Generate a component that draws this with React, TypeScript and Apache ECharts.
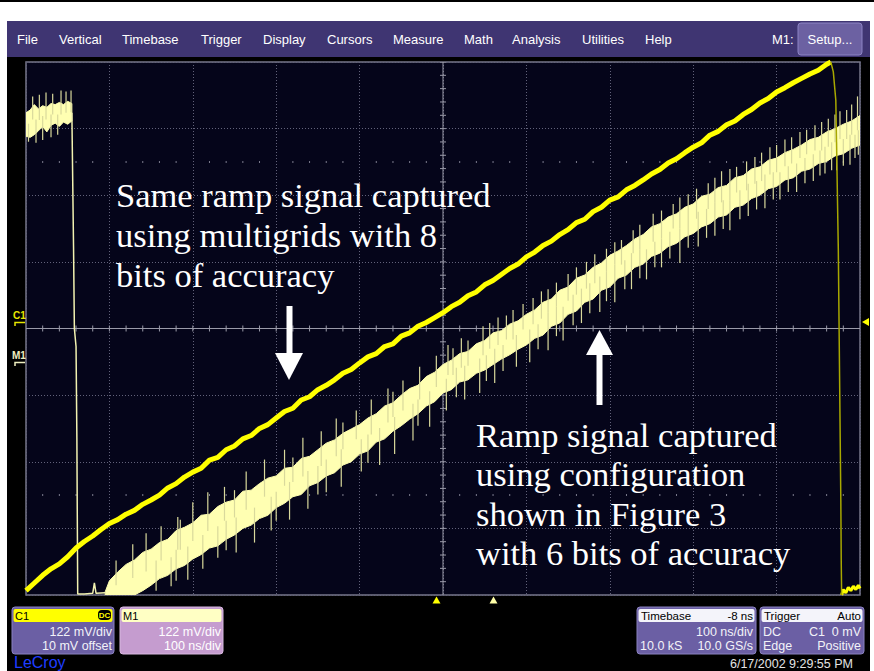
import React, { useEffect, useRef } from "react";
import * as echarts from "echarts";

// ---- C1 (8-bit ramp, bright yellow) : time (ns) / voltage (mV) ----
const C1_T = [-500,-490,-480,-470,-460,-450,-440,-430,-420,-410,-400,-390,-380,-370,-360,-350,-340,-330,-320,-310,-300,-290,-280,-270,-260,-250,-240,-230,-220,-210,-200,-190,-180,-170,-160,-150,-140,-130,-120,-110,-100,-90,-80,-70,-60,-50,-40,-30,-20,-10,0,10,20,30,40,50,60,70,80,90,100,110,120,130,140,150,160,170,180,190,200,210,220,230,240,250,260,270,280,290,300,310,320,330,340,350,360,370,380,390,400,410,420,430,440,450,460,465];
const C1_V = [-480,-466,-452,-440,-431,-418,-402,-390,-380,-368,-357,-350,-340,-333,-322,-314,-305,-292,-284,-272,-263,-256,-241,-236,-222,-215,-202,-196,-183,-176,-164,-152,-146,-131,-125,-112,-104,-94,-82,-75,-63,-52,-46,-33,-28,-14,-8,4,11,20,29,40,48,60,67,80,88,99,110,118,131,140,152,160,172,181,194,200,214,222,235,241,254,262,272,283,291,303,311,322,332,340,354,361,373,380,392,401,413,421,433,441,450,458,466,473,484,488];
const C1_FALL_T = [465,468,471,474,477,477.5,478];
const C1_FALL_V = [488,470,418,144,-314,-428,-488];
const C1_TAIL_T = [478,480,483,486,489,492,495,498,500];
const C1_TAIL_V = [-488,-478,-484,-474,-480,-472,-478,-470,-476];

// ---- M1 (6-bit ramp, pale yellow band) ----
const M1_T = [-405,-400,-390,-380,-370,-360,-350,-340,-330,-320,-310,-300,-290,-280,-270,-260,-250,-240,-230,-220,-210,-200,-190,-180,-170,-160,-150,-140,-130,-120,-110,-100,-90,-80,-70,-60,-50,-40,-30,-20,-10,0,10,20,30,40,50,60,70,80,90,100,110,120,130,140,150,160,170,180,190,200,210,220,230,240,250,260,270,280,290,300,310,320,330,340,350,360,370,380,390,400,410,420,430,440,450,460,470,480,490,500];
const M1_UP = [-482,-462,-446,-432,-424,-410,-404,-392,-386,-370,-364,-356,-342,-340,-326,-318,-314,-298,-296,-284,-274,-270,-256,-254,-238,-234,-222,-210,-204,-192,-184,-176,-164,-156,-142,-136,-122,-110,-104,-88,-80,-66,-58,-46,-42,-28,-22,-8,-4,8,14,26,34,48,54,70,76,92,98,112,120,134,142,152,164,172,186,192,204,210,222,228,242,246,258,262,276,280,292,296,308,312,322,328,336,346,350,360,366,374,380,390];
const M1_LO = [-492,-492,-494,-492,-490,-480,-470,-458,-452,-440,-434,-422,-414,-402,-398,-386,-378,-366,-360,-348,-342,-328,-320,-308,-304,-288,-282,-270,-264,-250,-244,-230,-224,-208,-202,-188,-178,-166,-156,-142,-134,-118,-112,-98,-94,-82,-76,-66,-56,-48,-38,-30,-18,-12,4,10,26,32,48,54,70,76,92,98,112,118,132,138,150,156,168,174,186,192,204,208,222,226,238,244,256,260,272,276,288,292,302,306,316,320,330,336];
// high level before the falling edge
const M1_HI_T = [-500,-495,-490,-485,-480,-475,-470,-465,-460,-455,-450,-445];
const M1_HI_UP = [395,400,410,402,408,405,412,410,414,410,416,412];
const M1_HI_LO = [352,350,355,362,370,360,372,376,370,378,374,380];
// falling edge and flat bottom
const M1_EDGE_T = [-445,-443,-442,-440,-439,-438,-430,-420,-418,-416,-405];
const M1_EDGE_V = [395,150,0,-33,-200,-486,-486,-485,-466,-485,-484];
// noise spikes (time, tip voltage)
const M1_SPIKE_T = [-497,-492,-488,-484,-480,-476,-470,-468,-462,-458,-452,-446,
  -392,-372,-356,-338,-318,-300,-282,-262,-236,-214,-190,-168,-146,-128,-104,-86,-66,-48,-28,-8,6,22,48,66,84,96,118,136,150,172,196,214,236,252,276,294,318,334,352,374,392,410,428,446,462,476,490,497,
  -344,-326,-306,-288,-270,-248,-226,-206,-184,-162,-140,-122,-98,-76,-58,-36,-16,4,26,44,62,88,104,126,144,166,188,206,226,244,262,284,306,326,344,366,386,404,424,444,458,472,488,498,
  -315,-250,-180,-120,-60,12,30,56,76,108,126,160,182,206,228,262,284,304,326,344,364,382,400,418,436,454,470,484,
  -320,-260,-200,-150,-90,-30,16,52,72,114,136,156,176,196,218,236,254,272,294,316,336,356,376,396,414,434,452,466,480,494];
const M1_SPIKE_TIP = [342,425,340,428,345,432,350,430,355,436,434,436,
  -425,-395,-375,-362,-345,-318,-300,-290,-262,-240,-222,-200,-188,-165,-150,-130,-110,-95,-70,-50,-30,-18,4,20,34,45,68,84,100,122,146,162,190,210,228,246,266,288,296,314,332,346,360,372,384,398,410,425,
  -480,-472,-460,-440,-420,-410,-392,-370,-350,-330,-300,-290,-262,-250,-230,-205,-180,-150,-130,-118,-100,-70,-62,-40,-22,10,30,48,72,90,112,120,150,170,180,206,220,236,250,270,284,290,300,318,
  -350,-296,-236,-172,-116,-36,-22,10,24,56,72,112,136,158,180,216,240,256,276,292,306,322,336,350,364,378,392,400,
  -462,-406,-352,-304,-246,-178,-126,-96,-78,-38,-14,6,28,50,72,92,112,128,148,166,182,200,218,236,250,266,280,290,298,312];

// ---- screen texts ----
const MENU_ITEMS = ["File","Vertical","Timebase","Trigger","Display","Cursors","Measure","Math","Analysis","Utilities","Help","M1:"];
const NOTE_LEFT = ["Same ramp signal captured","using multigrids with 8","bits of accuracy"];
const NOTE_RIGHT = ["Ramp signal captured","using configuration","shown in Figure 3","with 6 bits of accuracy"];
const DATE_TEXT = "6/17/2002 9:29:55 PM";

const X_MIN = -500, X_MAX = 500, X_INT = 100;
const Y_MIN = -488, Y_MAX = 488, Y_INT = 122;

const clampY = (v: number) => Math.max(Y_MIN, Math.min(Y_MAX, v));

function nearestMid(t: number) {
  if (t < -440) {
    let b = 0;
    for (let i = 0; i < M1_HI_T.length; i++) if (Math.abs(M1_HI_T[i] - t) < Math.abs(M1_HI_T[b] - t)) b = i;
    return (M1_HI_UP[b] + M1_HI_LO[b]) / 2;
  }
  let b = 0;
  for (let i = 0; i < M1_T.length; i++) if (Math.abs(M1_T[i] - t) < Math.abs(M1_T[b] - t)) b = i;
  return (M1_UP[b] + M1_LO[b]) / 2;
}

const SANS = "Liberation Sans, Arial, sans-serif";
const SERIF = "Liberation Serif, Times New Roman, serif";

function txt(x: number, y: number, text: string, size: number, fill: string, align = "left", family = SANS, weight = "normal", va = "middle") {
  return {
    type: "text", z: 100, silent: true,
    style: { x, y, text, fill, font: `${weight} ${size}px ${family}`, align, verticalAlign: va, textAlign: align, textVerticalAlign: va },
  };
}
function rect(x: number, y: number, w: number, h: number, fill: string, r = 0, stroke?: string) {
  return { type: "rect", z: 99, silent: true, shape: { x, y, width: w, height: h, r }, style: { fill, stroke: stroke || null, lineWidth: stroke ? 1 : 0 } };
}
function poly(points: number[][], fill: string) {
  return { type: "polygon", z: 100, silent: true, shape: { points }, style: { fill } };
}

export default function App() {
  const ref = useRef<HTMLDivElement>(null);
  useEffect(() => {
    const chart = echarts.init(ref.current!, null, { renderer: "svg" });

    const menuX = [17, 59, 122, 201, 263, 327, 393, 464, 512, 582, 645, 772];
    const graphics: any[] = [
      rect(0, 0, 874, 2, "#000000"),
      rect(0, 2, 874, 19, "#ffffff"),
      rect(0, 21, 7, 650, "#ffffff"),
      rect(870, 21, 4, 650, "#ffffff"),
      rect(7, 21, 863, 36, "#3f3572"),
      rect(798, 23, 64, 32, "#6c61a2", 3, "#8c84c4"),
      txt(830, 39.5, "Setup...", 13, "#ffffff", "center"),
    ];
    MENU_ITEMS.forEach((m, i) => graphics.push(txt(menuX[i], 39.5, m, 13, "#ffffff")));

    // channel markers at left
    graphics.push(txt(13, 315, "C1", 10, "#e8e800", "left", SANS, "bold"));
    graphics.push({ type: "polyline", z: 100, silent: true, shape: { points: [[15, 326], [15, 322.5], [25, 322.5]] }, style: { stroke: "#e8e800", lineWidth: 1.5, fill: null } });
    graphics.push(txt(12, 355, "M1", 10, "#efefc0", "left", SANS, "bold"));
    graphics.push({ type: "polyline", z: 100, silent: true, shape: { points: [[15, 366], [15, 362.5], [25, 362.5]] }, style: { stroke: "#efefc0", lineWidth: 1.5, fill: null } });
    // trigger level marker at right
    graphics.push(poly([[862, 322], [869, 318], [869, 326]], "#ffff00"));
    // trigger / time markers at bottom
    graphics.push(poly([[432.5, 603.5], [436.5, 596.5], [440.5, 603.5]], "#ffff00"));
    graphics.push(poly([[489.5, 603.5], [493.5, 596.5], [497.5, 603.5]], "#ffffa8"));

    // annotations
    NOTE_LEFT.forEach((s, i) => graphics.push(txt(116, 195 + i * 40, s, 34.5, "#ffffff", "left", SERIF)));
    NOTE_RIGHT.forEach((s, i) => graphics.push(txt(476, 435 + i * 39.3, s, 34.5, "#ffffff", "left", SERIF)));
    // arrows
    graphics.push(rect(286.5, 306, 6, 49, "#ffffff"));
    graphics.push(poly([[275, 353], [303, 353], [289, 380]], "#ffffff"));
    graphics.push(rect(596.5, 353, 6, 52, "#ffffff"));
    graphics.push(poly([[586, 355], [613, 355], [599.5, 330]], "#ffffff"));

    // bottom info boxes
    const BODY = "#6b5fa4";
    graphics.push(rect(12, 607, 102, 47, BODY, 3, "#8a82c0"));
    graphics.push(rect(13.5, 609, 99, 13, "#ffff00", 2));
    graphics.push(txt(15, 615.5, "C1", 11, "#000000"));
    graphics.push(rect(98, 610, 13, 10, "#000000", 4));
    graphics.push(txt(104.5, 615.5, "DC", 8, "#ffff00", "center", SANS, "bold"));
    graphics.push(txt(112, 632, "122 mV/div", 12.5, "#f2f2f8", "right"));
    graphics.push(txt(112, 646, "10 mV offset", 12.5, "#f2f2f8", "right"));

    graphics.push(rect(120, 607, 103, 47, "#c59ccf", 3, "#d8b8e0"));
    graphics.push(rect(121.5, 609, 100, 13, "#ffffc4", 2));
    graphics.push(txt(123, 615.5, "M1", 11, "#000000"));
    graphics.push(txt(221, 632, "122 mV/div", 12.5, "#ffffff", "right"));
    graphics.push(txt(221, 646, "100 ns/div", 12.5, "#ffffff", "right"));

    graphics.push(rect(637, 607, 119, 47, BODY, 3, "#8a82c0"));
    graphics.push(rect(638.5, 609, 116, 13, "#f4f4fa", 2));
    graphics.push(txt(641, 615.5, "Timebase", 11.5, "#000000"));
    graphics.push(txt(753, 615.5, "-8 ns", 11.5, "#000000", "right"));
    graphics.push(txt(753, 632, "100 ns/div", 12.5, "#f2f2f8", "right"));
    graphics.push(txt(640, 646, "10.0 kS", 12.5, "#f2f2f8"));
    graphics.push(txt(753, 646, "10.0 GS/s", 12.5, "#f2f2f8", "right"));

    graphics.push(rect(760, 607, 104, 47, BODY, 3, "#8a82c0"));
    graphics.push(rect(761.5, 609, 101, 13, "#f4f4fa", 2));
    graphics.push(txt(764, 615.5, "Trigger", 11.5, "#000000"));
    graphics.push(txt(861, 615.5, "Auto", 11.5, "#000000", "right"));
    graphics.push(txt(763, 632, "DC", 12.5, "#f2f2f8"));
    graphics.push(txt(861, 632, "C1  0 mV", 12.5, "#f2f2f8", "right"));
    graphics.push(txt(763, 646, "Edge", 12.5, "#f2f2f8"));
    graphics.push(txt(861, 646, "Positive", 12.5, "#f2f2f8", "right"));

    graphics.push(txt(853, 664, DATE_TEXT, 12.5, "#e4e4e4", "right"));
    graphics.push(txt(14, 654, "LeCroy", 16, "#1f3dff", "left", SANS, "normal", "top"));

    const splitStyle = { show: true, lineStyle: { color: "#62627a", width: 1, type: [1, 2] } };

    const option: any = {
      animation: false,
      backgroundColor: "#000000",
      grid: { left: 26, top: 62, width: 834, height: 533, show: true, backgroundColor: "#05051a", borderColor: "#77778a", borderWidth: 1.5 },
      xAxis: { type: "value", min: X_MIN, max: X_MAX, interval: X_INT, axisLine: { show: false, onZero: false }, axisTick: { show: false }, axisLabel: { show: false }, splitLine: splitStyle },
      yAxis: { type: "value", min: Y_MIN, max: Y_MAX, interval: Y_INT, axisLine: { show: false, onZero: false }, axisTick: { show: false }, axisLabel: { show: false }, splitLine: splitStyle },
      graphic: graphics,
      series: [
        {
          type: "custom", silent: true, z: 1, clip: true, data: [[0, 0]],
          renderItem: (_p: any, api: any) => {
            const ch: any[] = [];
            const st = { stroke: "#9a9aa8", lineWidth: 1 };
            const a = api.coord([X_MIN, 0]), b = api.coord([X_MAX, 0]);
            ch.push({ type: "line", shape: { x1: a[0], y1: a[1], x2: b[0], y2: b[1] }, style: st });
            const c = api.coord([0, Y_MIN]), d = api.coord([0, Y_MAX]);
            ch.push({ type: "line", shape: { x1: c[0], y1: c[1], x2: d[0], y2: d[1] }, style: st });
            for (let t = X_MIN + X_INT / 5; t < X_MAX; t += X_INT / 5) {
              const p = api.coord([t, 0]);
              ch.push({ type: "line", shape: { x1: p[0], y1: p[1] - 3, x2: p[0], y2: p[1] + 3 }, style: st });
              if (Math.abs(t % X_INT) > 1) {
                for (const v of [2.5 * Y_INT, -2.5 * Y_INT]) {
                  const q = api.coord([t, v]);
                  ch.push({ type: "rect", shape: { x: q[0] - 0.5, y: q[1] - 1, width: 1, height: 2 }, style: { fill: "#7c7c8e" } });
                }
              }
            }
            for (let v = Y_MIN + Y_INT / 5; v < Y_MAX; v += Y_INT / 5) {
              const p = api.coord([0, v]);
              ch.push({ type: "line", shape: { x1: p[0] - 3, y1: p[1], x2: p[0] + 3, y2: p[1] }, style: st });
            }
            return { type: "group", children: ch };
          },
        },
        {
          type: "custom", silent: true, z: 3, clip: true, data: [[0, 0]],
          renderItem: (_p: any, api: any) => {
            const band = (T: number[], U: number[], L: number[]) => {
              const pts: number[][] = [];
              for (let i = 0; i < T.length; i++) pts.push(api.coord([T[i], clampY(U[i])]));
              for (let i = T.length - 1; i >= 0; i--) pts.push(api.coord([T[i], clampY(L[i])]));
              return { type: "polygon", shape: { points: pts }, style: { fill: "#ffffb2", stroke: "#ffffb2", lineWidth: 1 } };
            };
            return { type: "group", children: [band(M1_T, M1_UP, M1_LO), band(M1_HI_T, M1_HI_UP, M1_HI_LO)] };
          },
        },
        {
          type: "custom", silent: true, z: 3, clip: true,
          data: M1_SPIKE_T.map((t, i) => [t, M1_SPIKE_TIP[i]]),
          renderItem: (_p: any, api: any) => {
            const t = api.value(0), tip = clampY(api.value(1));
            const a = api.coord([t, nearestMid(t)]), b = api.coord([t, tip]);
            return { type: "line", shape: { x1: a[0], y1: a[1], x2: b[0], y2: b[1] }, style: { stroke: "#d9d99c", lineWidth: 1.2 } };
          },
        },
        {
          type: "line", silent: true, z: 3, symbol: "none", clip: true,
          data: M1_EDGE_T.map((t, i) => [t, M1_EDGE_V[i]]),
          lineStyle: { color: "#f2f2b0", width: 1.5 },
        },
        {
          type: "line", silent: true, z: 5, symbol: "none", clip: true,
          data: C1_T.map((t, i) => [t, C1_V[i]]),
          lineStyle: { color: "#ffff00", width: 5 },
        },
        {
          type: "line", silent: true, z: 6, symbol: "none", clip: true,
          data: C1_FALL_T.map((t, i) => [t, C1_FALL_V[i]]),
          lineStyle: { color: "#a8a800", width: 1.5 },
        },
        {
          type: "line", silent: true, z: 5, symbol: "none", clip: true,
          data: C1_TAIL_T.map((t, i) => [t, C1_TAIL_V[i]]),
          lineStyle: { color: "#ffff00", width: 3 },
        },
      ],
    };
    chart.setOption(option);
    return () => chart.dispose();
  }, []);
  return <div ref={ref} style={{ position: "fixed", left: 0, top: 0, width: 874, height: 671 }} />;
}
